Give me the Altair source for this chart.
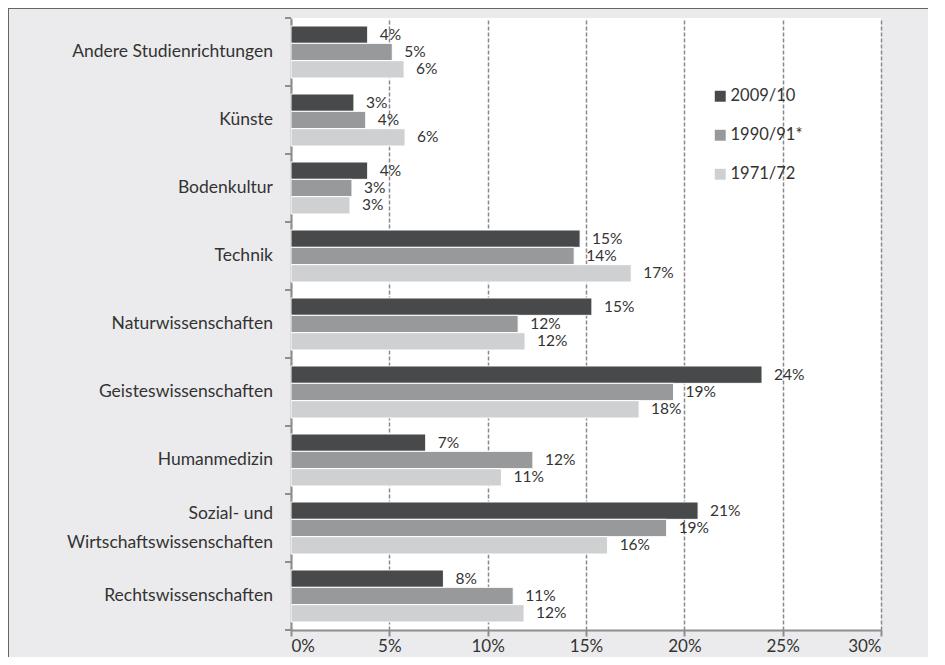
import altair as alt
import pandas as pd

categories = [
    "Andere Studienrichtungen",
    "Künste",
    "Bodenkultur",
    "Technik",
    "Naturwissenschaften",
    "Geisteswissenschaften",
    "Humanmedizin",
    "Sozial- und|Wirtschaftswissenschaften",
    "Rechtswissenschaften",
]
series = ["2009/10", "1990/91*", "1971/72"]
v2009 = [3.9, 3.2, 3.9, 14.7, 15.3, 23.95, 6.85, 20.7, 7.75]
v1990 = [5.15, 3.8, 3.1, 14.4, 11.55, 19.45, 12.3, 19.1, 11.3]
v1971 = [5.75, 5.8, 3.0, 17.3, 11.9, 17.7, 10.7, 16.1, 11.85]
colors = ["#48494b", "#98999b", "#cfd0d2"]
x_ticks = [0, 5, 10, 15, 20, 25, 30]

rows = []
for s, vals in zip(series, [v2009, v1990, v1971]):
    for c, v in zip(categories, vals):
        rows.append({"cat": c, "series": s, "value": v})
df = pd.DataFrame(rows)

FONT = "Lato"
TXT = "#333333"
CAT_FS = 17.5

y_enc = alt.Y(
    "cat:N",
    sort=categories,
    title=None,
    scale=alt.Scale(paddingInner=0.235, paddingOuter=0.1175),
    axis=alt.Axis(
        labels=False,
        ticks=False,
        domainColor="#8e8e8e",
        domainWidth=2,
        grid=False,
    ),
)

base = alt.Chart(df)

bars = base.mark_bar(stroke="white", strokeWidth=1).encode(
    x=alt.X(
        "value:Q",
        title=None,
        scale=alt.Scale(domain=[0, 30], nice=False),
        axis=alt.Axis(
            values=x_ticks,
            labelExpr="datum.value + '%'",
            labelFontSize=17,
            labelColor=TXT,
            labelFont=FONT,
            tickSize=6,
            tickColor="#8e8e8e",
            tickWidth=2,
            domainColor="#8e8e8e",
            domainWidth=2,
            labelPadding=2,
            grid=True,
            gridDash=[4, 2],
            gridColor="#8a8a8a",
            gridWidth=1.5,
        ),
    ),
    y=y_enc,
    yOffset=alt.YOffset("series:N", sort=series),
    color=alt.Color(
        "series:N",
        sort=series,
        scale=alt.Scale(domain=series, range=colors),
        legend=alt.Legend(
            orient="none",
            legendX=421,
            legendY=70,
            title=None,
            symbolType="square",
            symbolSize=120,
            symbolStrokeWidth=0,
            labelFontSize=16.5,
            labelFont=FONT,
            labelColor=TXT,
            rowPadding=22,
            padding=0,
            labelOffset=2,
        ),
    ),
)

labels = base.transform_calculate(
    lab="round(datum.value) + '%'"
).mark_text(
    align="left", baseline="middle", dx=12, fontSize=15.5, font=FONT, color=TXT
).encode(
    x="value:Q",
    y=alt.Y("cat:N", sort=categories),
    yOffset=alt.YOffset("series:N", sort=series),
    text="lab:N",
)

cat_one = base.transform_filter(
    "datum.series == '2009/10' && indexof(datum.cat, '|') < 0"
).mark_text(
    align="right", baseline="middle", fontSize=CAT_FS, font=FONT, color=TXT, lineBreak="|"
).encode(
    y=alt.Y("cat:N", sort=categories),
    x=alt.value(-18),
    text="cat:N",
)

cat_two = base.transform_filter(
    "datum.series == '2009/10' && indexof(datum.cat, '|') >= 0"
).mark_text(
    align="right", baseline="middle", fontSize=CAT_FS, font=FONT, color=TXT,
    lineBreak="|", lineHeight=29, dy=-14.5,
).encode(
    y=alt.Y("cat:N", sort=categories),
    x=alt.value(-18),
    text="cat:N",
)

ticks = base.transform_filter(alt.datum.series == "2009/10").mark_rule(
    color="#8e8e8e", strokeWidth=2, yOffset=8
).encode(
    y=alt.Y("cat:N", sort=categories, bandPosition=1),
    x=alt.value(-6),
    x2=alt.value(0),
)

top_tick = base.transform_filter(alt.datum.series == "2009/10").mark_rule(
    color="#8e8e8e", strokeWidth=2
).encode(
    y=alt.value(0),
    x=alt.value(-6),
    x2=alt.value(0),
)

frame_left = base.mark_rule(color="#666666", strokeWidth=2).encode(
    x=alt.value(-283), y=alt.value(-10), y2=alt.value(660)
)
frame_top = base.mark_rule(color="#666666", strokeWidth=2).encode(
    y=alt.value(-10), x=alt.value(-283), x2=alt.value(660)
)

chart = (
    alt.layer(bars, labels, cat_one, cat_two, ticks, top_tick, frame_left, frame_top)
    .properties(
        width=590,
        height=612,
        padding={"left": 283, "top": 10, "right": 47, "bottom": 27},
        autosize=alt.AutoSizeParams(type="none"),
        background="#ebebed",
    )
    .configure_view(fill="white", stroke=None)
)

chart.save("out.html", embed_options={"renderer": "svg", "actions": False})
